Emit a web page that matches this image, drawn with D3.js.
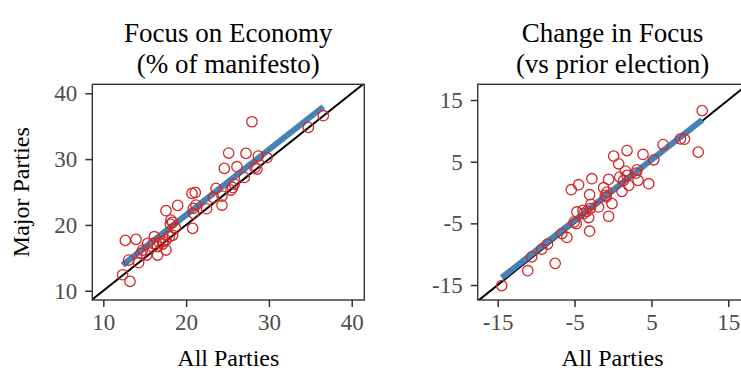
<!DOCTYPE html>
<html>
<head>
<meta charset="utf-8">
<script src="https://cdn.jsdelivr.net/npm/d3@7"></script>
<style>
  html, body { margin: 0; padding: 0; background: #fff; }
  svg { display: block; font-family: "Liberation Serif", "Times New Roman", serif; }
</style>
</head>
<body>
<svg id="chart" width="741" height="371"></svg>
<script>
// ---- Data ----
const panelTitles = [["Focus on Economy", "(% of manifesto)"], ["Change in Focus", "(vs prior election)"]];
const xAxisTitle = "All Parties";
const yAxisTitle = "Major Parties";

const levelTicks = [10, 20, 30, 40];
const changeTicks = [-15, -5, 5, 15];

// Panel 1: focus on economy (x = all parties, y = major parties)
const levelX = [36.57, 34.76, 27.95, 29.77, 28.72, 27.23, 25.14, 24.61, 26.14, 28.32, 28.56, 27.03, 25.82, 25.62, 25.42, 23.61, 24.33, 23.29, 22.48, 24.33, 20.71, 21.11, 21.19, 20.87, 20.91, 20.79, 18.98, 17.57, 18.17, 18.37, 18.09, 18.70, 18.37, 17.97, 17.57, 17.25, 16.76, 16.16, 16.04, 15.35, 16.56, 17.57, 16.56, 14.75, 14.55, 15.23, 13.95, 12.66, 13.06, 14.27, 12.33, 13.22, 17.17];
const levelY = [36.60, 34.82, 35.68, 30.21, 30.47, 30.87, 30.92, 28.59, 28.85, 28.74, 28.49, 27.22, 26.21, 25.70, 25.30, 25.55, 24.39, 24.18, 22.46, 23.02, 24.79, 24.94, 23.02, 22.51, 21.75, 19.47, 22.97, 22.16, 20.74, 20.39, 20.13, 19.57, 18.41, 18.21, 17.70, 17.45, 17.35, 18.21, 17.19, 17.19, 16.69, 16.18, 15.42, 16.18, 15.67, 15.42, 17.80, 17.65, 14.66, 14.26, 12.43, 11.42, 17.09];
const levelFitX = [12.33, 36.57];
const levelFitY = [13.90, 37.96];

// Panel 2: change in focus vs prior election
const changeX = [11.61, 11.09, 9.30, 8.78, 6.52, 5.30, 3.91, 1.83, 0.09, 0.74, 4.65, 3.26, 3.13, 3.00, 1.61, 1.83, 1.39, 2.04, 1.17, 0.87, -0.57, -1.22, -0.78, -1.00, -0.13, -0.57, -2.74, -3.04, -2.87, -1.87, -2.96, -3.91, -3.17, -4.70, -3.83, -4.48, -5.43, -5.04, -4.78, -3.04, -6.00, -6.65, -8.52, -9.26, -10.57, -7.52, -11.09, -14.48, -0.87, -3.39];
const changeY = [13.28, 6.55, 8.65, 8.70, 7.78, 5.31, 6.17, 6.81, 5.90, 4.66, 1.43, 1.97, 3.69, 3.15, 3.48, 2.78, 1.97, 1.16, 0.19, 2.51, 2.13, 0.78, 0.08, -0.45, -1.80, -3.85, 2.24, -0.35, -1.91, -2.34, -2.61, -2.88, -4.06, -3.15, -3.42, 1.27, 0.46, -4.76, -5.03, -6.27, -7.29, -6.65, -8.37, -9.18, -10.42, -11.49, -12.68, -15.10, -0.72, -3.04];
const changeFitX = [-14.48, 11.61];
const changeFitY = [-13.81, 11.77];

// ---- Layout ----
const svg = d3.select("#chart");
const plotTop = 84.3, plotBottom = 300;

const panels = [
  { title: panelTitles[0], left: 92.3, right: 364.3, xDom: [8.67, 41.52], yDom: [8.59, 41.37],
    ticks: levelTicks, xs: levelX, ys: levelY, fx: levelFitX, fy: levelFitY, yTitle: true },
  { title: panelTitles[1], left: 477.7, right: 747.5, xDom: [-17.6, 17.5], yDom: [-17.43, 17.55],
    ticks: changeTicks, xs: changeX, ys: changeY, fx: changeFitX, fy: changeFitY, yTitle: false }
];

const tickColor = "#333333";
const labelColor = "#4d4d4d";
const pointColor = "#d02828";
const fitColor = "#4682b4";

panels.forEach((p, i) => {
  const x = d3.scaleLinear().domain(p.xDom).range([p.left, p.right]);
  const y = d3.scaleLinear().domain(p.yDom).range([plotBottom, plotTop]);
  const g = svg.append("g");

  const clipId = "clip" + i;
  svg.append("defs").append("clipPath").attr("id", clipId)
    .append("rect").attr("x", p.left).attr("y", plotTop)
    .attr("width", p.right - p.left).attr("height", plotBottom - plotTop);

  const plot = g.append("g").attr("clip-path", `url(#${clipId})`);

  // identity line y = x
  const lo = Math.min(p.xDom[0], p.yDom[0]) - 5;
  const hi = Math.max(p.xDom[1], p.yDom[1]) + 5;
  plot.append("line")
    .attr("x1", x(lo)).attr("y1", y(lo)).attr("x2", x(hi)).attr("y2", y(hi))
    .attr("stroke", "#000").attr("stroke-width", 2);

  // fitted line
  plot.append("line")
    .attr("x1", x(p.fx[0])).attr("y1", y(p.fy[0]))
    .attr("x2", x(p.fx[1])).attr("y2", y(p.fy[1]))
    .attr("stroke", fitColor).attr("stroke-width", 6);

  // points
  plot.selectAll("circle").data(p.xs.map((v, k) => [v, p.ys[k]]))
    .enter().append("circle")
    .attr("cx", d => x(d[0])).attr("cy", d => y(d[1])).attr("r", 5.2)
    .attr("fill", "none").attr("stroke", pointColor).attr("stroke-width", 1.3);

  // frame
  g.append("rect").attr("x", p.left).attr("y", plotTop)
    .attr("width", p.right - p.left).attr("height", plotBottom - plotTop)
    .attr("fill", "none").attr("stroke", tickColor).attr("stroke-width", 1.4);

  // axes
  const fmt = d => String(d);
  const xAxis = d3.axisBottom(x).tickValues(p.ticks).tickSize(7).tickPadding(7).tickFormat(fmt);
  const yAxis = d3.axisLeft(y).tickValues(p.ticks).tickSize(7).tickPadding(8).tickFormat(fmt);

  const gx = g.append("g").attr("transform", `translate(0,${plotBottom})`).call(xAxis);
  const gy = g.append("g").attr("transform", `translate(${p.left},0)`).call(yAxis);
  [gx, gy].forEach(a => {
    a.select(".domain").remove();
    a.selectAll(".tick line").attr("stroke", tickColor).attr("stroke-width", 1.5);
    a.selectAll(".tick text").attr("fill", labelColor)
      .style("font-family", "'Liberation Serif', serif").style("font-size", "23px");
  });

  // x axis title
  g.append("text").attr("x", (p.left + p.right) / 2).attr("y", 366)
    .attr("text-anchor", "middle").style("font-size", "24px").attr("fill", "#000")
    .text(xAxisTitle);

  // panel title (two lines)
  const t = g.append("text").attr("text-anchor", "middle").style("font-size", "27px").attr("fill", "#000");
  t.append("tspan").attr("x", (p.left + p.right) / 2).attr("y", 42).text(p.title[0]);
  t.append("tspan").attr("x", (p.left + p.right) / 2).attr("y", 73).text(p.title[1]);

  if (p.yTitle) {
    g.append("text")
      .attr("transform", `translate(29,${(plotTop + plotBottom) / 2}) rotate(-90)`)
      .attr("text-anchor", "middle").style("font-size", "24px").attr("fill", "#000")
      .text(yAxisTitle);
  }
});
</script>
</body>
</html>
